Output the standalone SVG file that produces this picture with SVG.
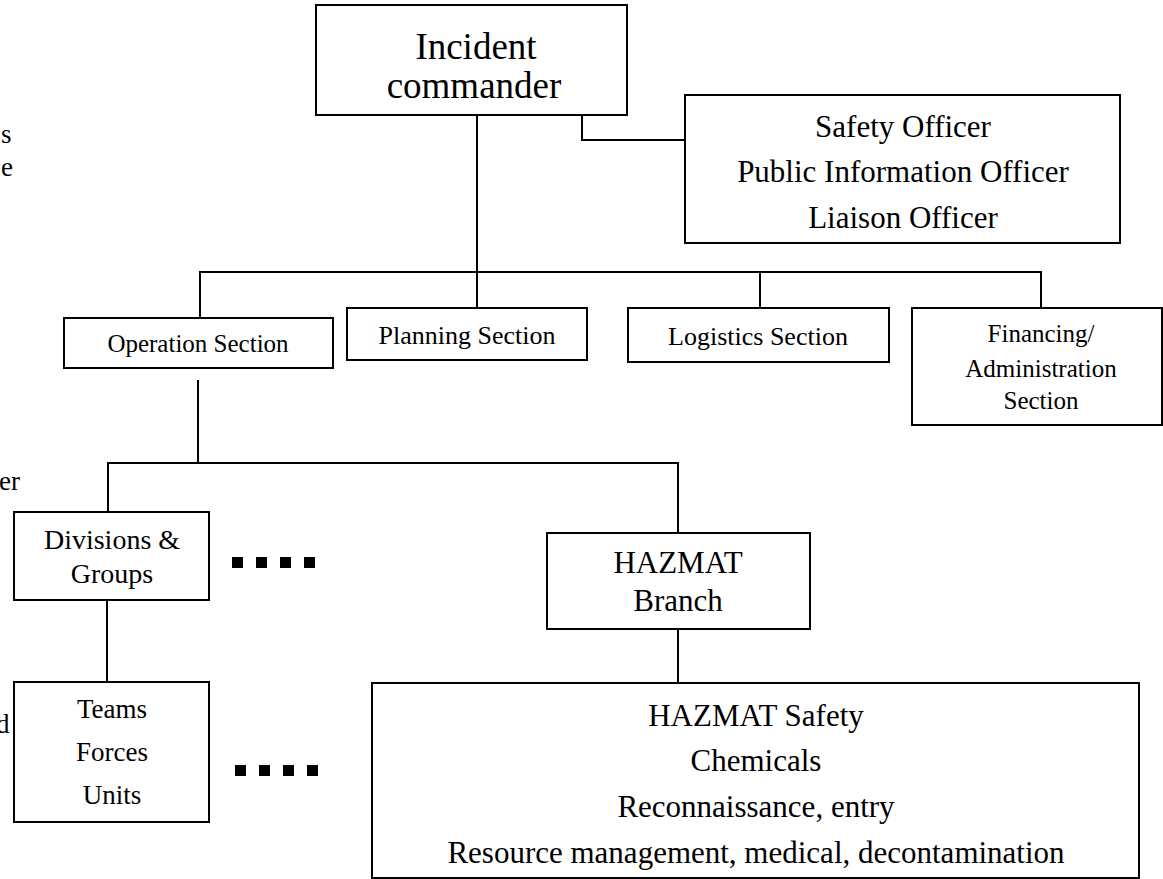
<svg xmlns="http://www.w3.org/2000/svg" width="1163" height="879" viewBox="0 0 1163 879">
<style>
.box{fill:#fff;stroke:#000;stroke-width:2}
.ln{fill:none;stroke:#000;stroke-width:2}
text{font-family:"Liberation Serif","Times New Roman",serif;fill:#000;text-anchor:middle}
.frag{text-anchor:start;font-size:27px}
.dot{fill:#000}
</style>
<rect width="1163" height="879" fill="#fff"/>
<g id="fragments">
<text class="frag" x="1" y="143">s</text>
<text class="frag" x="1" y="176">e</text>
<text class="frag" x="-1" y="490">er</text>
<text class="frag" x="-4" y="733">d</text>
</g>
<g id="connectors">
<path class="ln" d="M477,115 V272"/>
<path class="ln" d="M582,115 V140 H685"/>
<path class="ln" d="M200,318 V272 H1041 V308"/>
<path class="ln" d="M477,272 V308"/>
<path class="ln" d="M760,272 V308"/>
<path class="ln" d="M198,380 V463"/>
<path class="ln" d="M108,512 V463 H678 V533"/>
<path class="ln" d="M107,600 V682"/>
<path class="ln" d="M678,629 V683"/>
</g>
<g id="incident-commander">
<rect class="box" x="316" y="5" width="311" height="110"/>
<text x="476" y="59" font-size="37">Incident</text>
<text x="474" y="98" font-size="37">commander</text>
</g>
<g id="officers">
<rect class="box" x="685" y="95" width="435" height="148"/>
<text x="903" y="137" font-size="31">Safety Officer</text>
<text x="903" y="182" font-size="31">Public Information Officer</text>
<text x="903" y="228" font-size="31">Liaison Officer</text>
</g>
<g id="operation-section">
<rect class="box" x="64" y="318" width="269" height="50"/>
<text x="198" y="352" font-size="25">Operation Section</text>
</g>
<g id="planning-section">
<rect class="box" x="347" y="308" width="240" height="52"/>
<text x="467" y="344" font-size="26">Planning Section</text>
</g>
<g id="logistics-section">
<rect class="box" x="628" y="308" width="261" height="54"/>
<text x="758" y="345" font-size="26">Logistics Section</text>
</g>
<g id="financing-section">
<rect class="box" x="912" y="308" width="250" height="117"/>
<text x="1041" y="342" font-size="25">Financing/</text>
<text x="1041" y="377" font-size="25">Administration</text>
<text x="1041" y="409" font-size="25">Section</text>
</g>
<g id="divisions-groups">
<rect class="box" x="14" y="512" width="195" height="88"/>
<text x="112" y="549" font-size="28">Divisions &amp;</text>
<text x="112" y="583" font-size="28">Groups</text>
</g>
<g id="teams-forces-units">
<rect class="box" x="14" y="682" width="195" height="140"/>
<text x="112" y="718" font-size="27">Teams</text>
<text x="112" y="761" font-size="27">Forces</text>
<text x="112" y="804" font-size="27">Units</text>
</g>
<g id="ellipsis-1">
<rect class="dot" x="232" y="557" width="11" height="11"/>
<rect class="dot" x="256" y="557" width="11" height="11"/>
<rect class="dot" x="280" y="557" width="11" height="11"/>
<rect class="dot" x="304" y="557" width="11" height="11"/>
</g>
<g id="ellipsis-2">
<rect class="dot" x="235" y="765" width="11" height="11"/>
<rect class="dot" x="259" y="765" width="11" height="11"/>
<rect class="dot" x="283" y="765" width="11" height="11"/>
<rect class="dot" x="307" y="765" width="11" height="11"/>
</g>
<g id="hazmat-branch">
<rect class="box" x="547" y="533" width="263" height="96"/>
<text x="678" y="573" font-size="31">HAZMAT</text>
<text x="678" y="611" font-size="31">Branch</text>
</g>
<g id="hazmat-units">
<rect class="box" x="372" y="683" width="767" height="195"/>
<text x="756" y="726" font-size="31">HAZMAT Safety</text>
<text x="756" y="771" font-size="31">Chemicals</text>
<text x="756" y="817" font-size="31">Reconnaissance, entry</text>
<text x="756" y="863" font-size="31">Resource management, medical, decontamination</text>
</g>
</svg>
